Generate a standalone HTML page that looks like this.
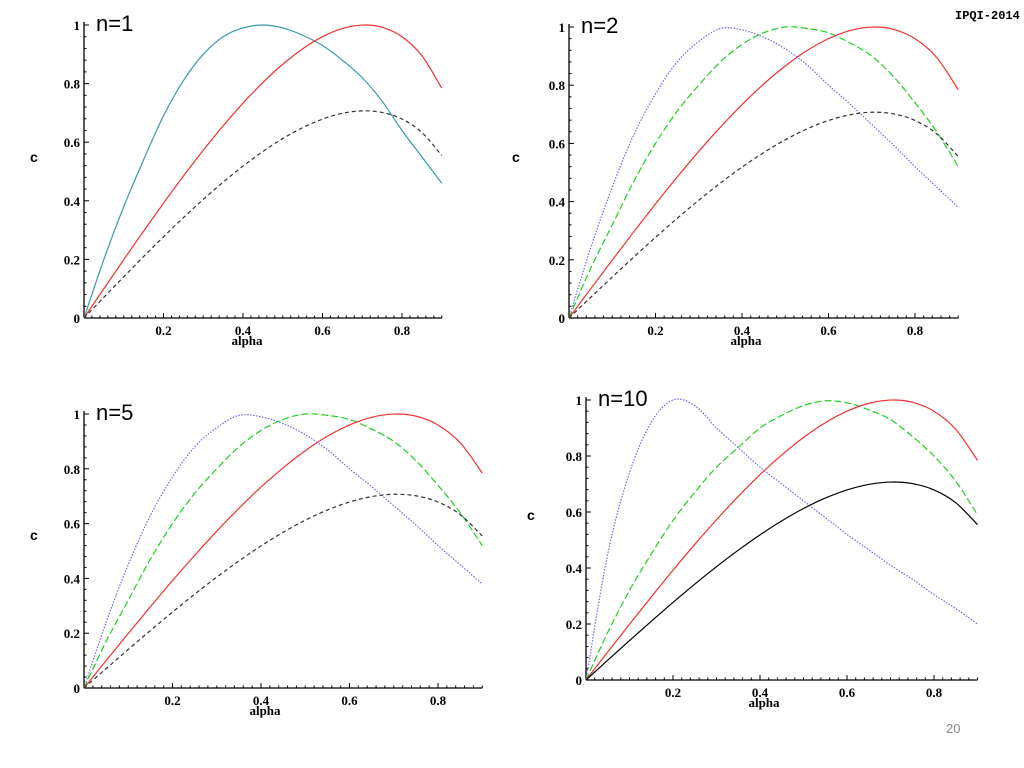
<!DOCTYPE html>
<html><head><meta charset="utf-8"><style>
html,body{margin:0;padding:0;background:#fff;}
svg{display:block}
.tk{font-family:"Liberation Serif",serif;font-weight:bold;font-size:13px;fill:#000}
.ttl{font-family:"Liberation Sans",sans-serif;font-size:22px;fill:#000}
</style></head><body>
<svg id="s" width="1024" height="768" viewBox="0 0 1024 768">
<text x="955" y="19" font-family="Liberation Mono,monospace" font-weight="bold" font-size="12">IPQI-2014</text>
<text x="946" y="733" font-family="Liberation Sans,sans-serif" font-size="13" fill="#888">20</text>
</svg>
<script>
const xs=[0,.05,.1,.15,.2,.25,.3,.35,.4,.45,.5,.55,.6,.65,.7,.75,.8,.85,.9];
const redVals=[0,.0999,.199,.2966,.3919,.4841,.5724,.6557,.7332,.8037,.866,.9187,.96,.9879,.9998,.9922,.96,.8955,.7846];
const blackVals=[0,.0707,.1407,.2097,.2771,.3423,.4047,.4636,.5185,.5683,.6124,.6496,.6788,.6985,.707,.7016,.6788,.6332,.5548];
const cyanVals=[0,.2,.38,.54,.69,.81,.9,.96,.99,1,.99,.965,.93,.88,.82,.74,.64,.55,.46];
const blue2Vals=[0,.24,.45,.63,.77,.88,.95,.995,.99,.965,.925,.87,.8,.735,.665,.595,.52,.45,.38];
const green2Vals=[0,.17,.32,.47,.6,.71,.8,.88,.94,.98,1,.995,.98,.945,.9,.83,.74,.64,.52];
const blue10Vals=[0,.45,.74,.92,1,.98,.9,.83,.76,.7,.64,.58,.52,.465,.41,.36,.305,.255,.2];
const green10Vals=[0,.17,.32,.45,.57,.67,.76,.83,.9,.945,.98,.997,.99,.965,.93,.87,.8,.71,.59];
const xTicks=[0.2,0.4,0.6,0.8];
const yTicks=[0,0.2,0.4,0.6,0.8,1];

const panels=[
 {name:'n1',title:'n=1',ox:84,oy:318,top:25,w02:79.5,cx:30,cy:162,
  series:[[cyanVals,'#3a9aa8',''],[redVals,'#f03030',''],[blackVals,'#333','4,3']]},
 {name:'n2',title:'n=2',ox:569,oy:318,top:27,w02:86.5,cx:512,cy:162,
  series:[[blue2Vals,'#6a6ae8','1.5,1.5'],[green2Vals,'#20d020','7,3'],[redVals,'#f03030',''],[blackVals,'#333','4,3']]},
 {name:'n5',title:'n=5',ox:84,oy:688,top:414,w02:88.5,cx:30,cy:540,
  series:[[blue2Vals,'#6a6ae8','1.5,1.5'],[green2Vals,'#20d020','7,3'],[redVals,'#f03030',''],[blackVals,'#333','4,3']]},
 {name:'n10',title:'n=10',ox:586,oy:680,top:400,w02:87,cx:527,cy:520,
  series:[[blue10Vals,'#6a6ae8','1.5,1.5'],[green10Vals,'#20d020','7,3'],[redVals,'#f03030',''],[blackVals,'#000','']]}
];
const S=document.getElementById('s');const NS='http://www.w3.org/2000/svg';
function mk(t,a,p){const e=document.createElementNS(NS,t);for(const k in a)e.setAttribute(k,a[k]);(p||S).appendChild(e);return e;}
function path(pts){let d='M'+pts[0][0]+','+pts[0][1];
 for(let i=0;i<pts.length-1;i++){const p0=pts[i-1]||pts[i],p1=pts[i],p2=pts[i+1],p3=pts[i+2]||p2;
  d+=' C'+(p1[0]+(p2[0]-p0[0])/6)+','+(p1[1]+(p2[1]-p0[1])/6)+' '+(p2[0]-(p3[0]-p1[0])/6)+','+(p2[1]-(p3[1]-p1[1])/6)+' '+p2[0]+','+p2[1];}
 return d;}
panels.forEach(P=>{
 const g=mk('g',{});
 
 
 const X=v=>P.ox+v/0.2*P.w02, Y=v=>P.oy-v*(P.oy-P.top);
 const xend=X(0.9);
 const xa=mk('line',{x1:P.ox,y1:P.oy,x2:xend,y2:P.oy,stroke:'#000','stroke-width':1.3},g);
 
 
 const ya=mk('line',{x1:P.ox,y1:P.oy,x2:P.ox,y2:P.top-3,stroke:'#000','stroke-width':1.3},g);
 
 
 for(let v=0.02;v<=0.9001;v+=0.02){const x=X(v),big=Math.abs(v/0.2-Math.round(v/0.2))<1e-6;mk('line',{x1:x,y1:P.oy,x2:x,y2:P.oy-(big?5:2.5),stroke:'#000'},g);}
 for(let v=0.04;v<=1.0001;v+=0.04){const y=Y(v),big=Math.abs(v/0.2-Math.round(v/0.2))<1e-6;mk('line',{x1:P.ox,y1:y,x2:P.ox+(big?5:2.5),y2:y,stroke:'#000'},g);}
 xTicks.forEach(v=>{const t=mk('text',{x:X(v),y:P.oy+17,'text-anchor':'middle',class:'tk'},g);t.textContent=v.toFixed(1);
  
  });
 yTicks.forEach(v=>{const t=mk('text',{x:P.ox-4,y:Y(v)+5,'text-anchor':'end',class:'tk'},g);t.textContent=(v==0||v==1)?String(v):v.toFixed(1);
  
  });
 const xl=mk('text',{x:X(0.4)+4,y:P.oy+27,'text-anchor':'middle',class:'tk','font-family':'Liberation Sans Narrow,Liberation Sans,sans-serif','font-size':'13'},g);xl.textContent='alpha';
 
 
 const yl=mk('text',{x:P.cx,y:P.cy,'font-family':'Liberation Sans,sans-serif','font-weight':'bold','font-size':'14'},g);yl.textContent='c';
 
 
 const tt=mk('text',{x:P.ox+12,y:P.top+6,class:'ttl'},g);tt.textContent=P.title;
 
 
 P.series.forEach((s,i)=>{const pts=xs.map((x,j)=>[X(x),Y(s[0][j])]);
  const a={d:path(pts),fill:'none',stroke:s[1],'stroke-width':1.2};if(s[2])a['stroke-dasharray']=s[2];
  const p=mk('path',a,g);
  
  });
});
</script>
</body></html>
